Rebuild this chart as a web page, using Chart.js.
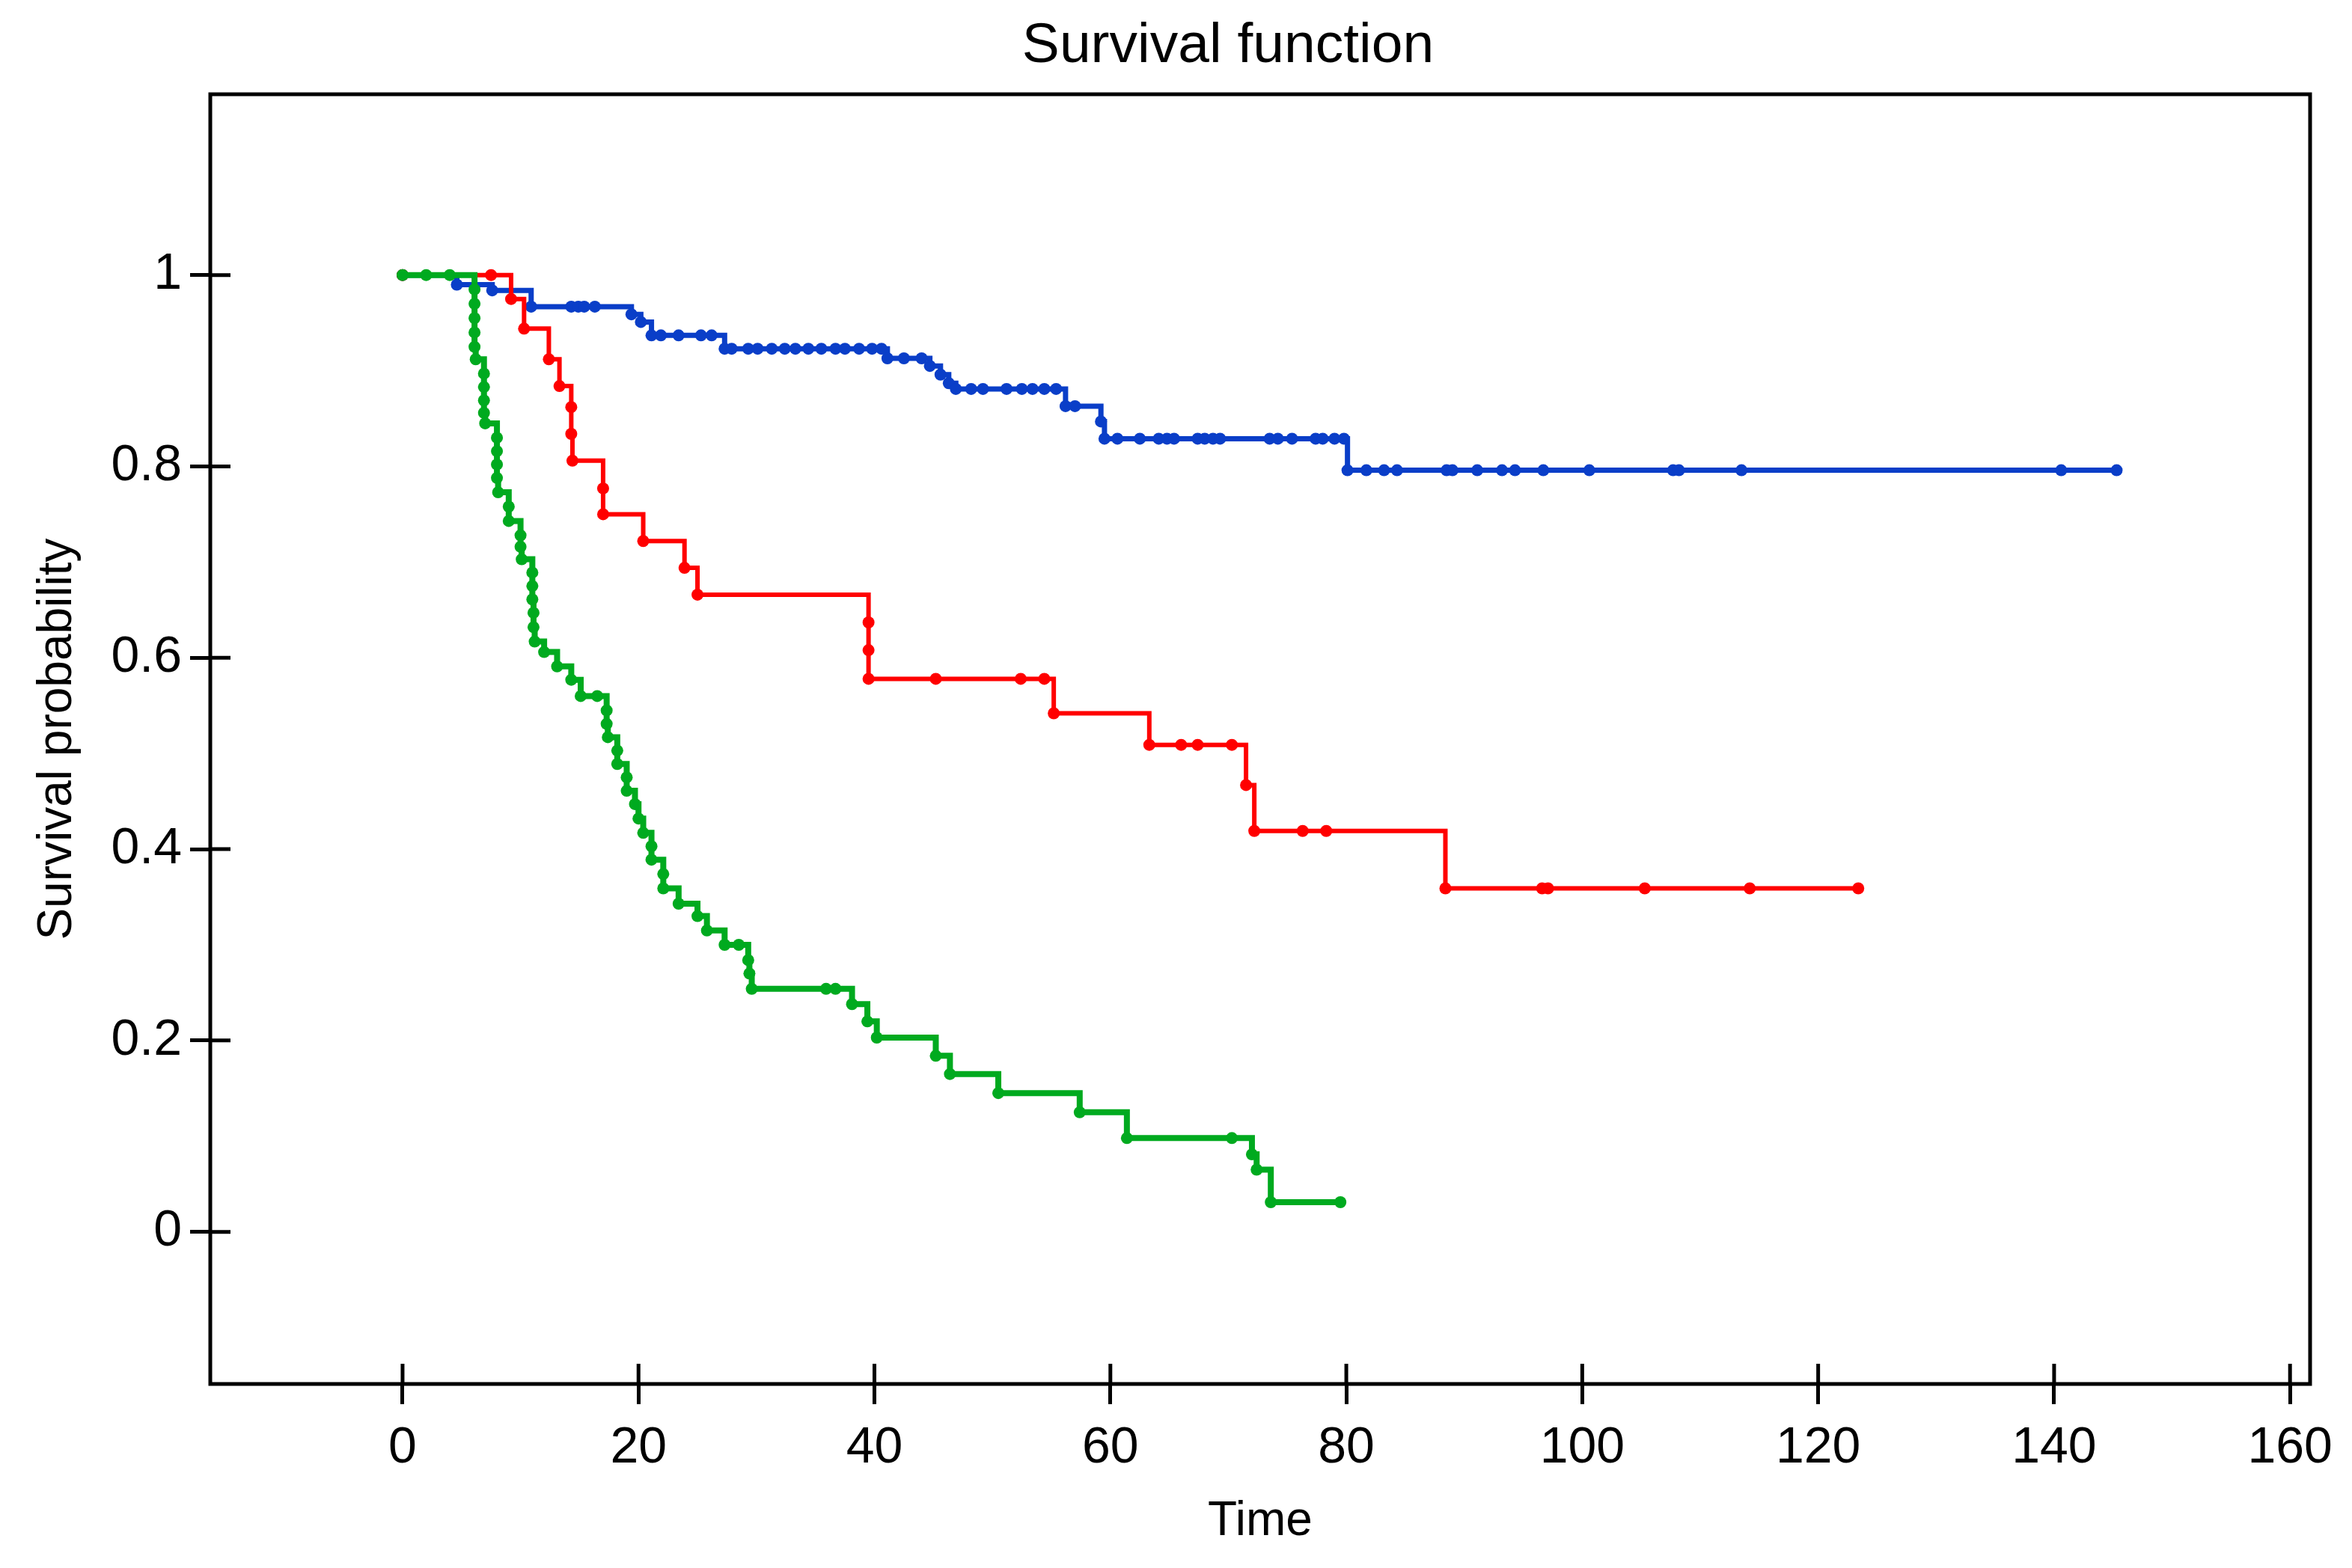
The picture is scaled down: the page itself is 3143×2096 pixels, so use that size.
<!DOCTYPE html>
<html>
<head>
<meta charset="utf-8">
<title>Survival function</title>
<script src="https://cdn.jsdelivr.net/npm/chart.js@4.4.1/dist/chart.umd.min.js"></script>
<style>
  html, body { margin: 0; padding: 0; background: #fff; }
  #wrap { position: relative; width: 3143px; height: 2096px; }
</style>
</head>
<body>
<div id="wrap"><canvas id="survivalChart"></canvas></div>
<script>
// ==================== Data ====================
const chartTitle = 'Survival function';
const xAxisTitle = 'Time';
const yAxisTitle = 'Survival probability';

const xTicks = [0, 20, 40, 60, 80, 100, 120, 140, 160];
const yTicks = [0, 0.2, 0.4, 0.6, 0.8, 1];
const yTickLabels = ['0', '0.2', '0.4', '0.6', '0.8', '1'];

// group 1 (blue)
const blueTime = [
  0, 4.6, 7.6, 10.9, 14.3, 14.9, 15.4, 16.3,
  19.4, 20.2, 21.1, 21.9, 23.4, 25.3, 26.2,
  27.3, 27.9, 29.3, 30.1, 31.3, 32.4, 33.3, 34.4, 35.5, 36.7, 37.5, 38.7, 39.8, 40.6,
  41.1, 42.5, 44.0,
  44.7, 45.6, 46.3, 46.9, 48.2, 49.2, 51.2, 52.5, 53.4, 54.4, 55.4,
  56.2, 57.0,
  59.2, 59.5, 60.6, 62.5, 64.1, 64.8, 65.4, 67.4, 68.0, 68.7, 69.3, 73.5, 74.2, 75.4, 77.4, 78.0, 79.0, 79.8,
  80.1, 81.7, 83.2, 84.3, 88.5, 89.0, 91.1, 93.2, 94.3, 96.7, 100.6, 107.7, 108.2, 113.5, 140.6, 145.3
];
const blueSurv = [
  1, 0.99, 0.984, 0.967, 0.967, 0.967, 0.967, 0.967,
  0.959, 0.951, 0.937, 0.937, 0.937, 0.937, 0.937,
  0.923, 0.923, 0.923, 0.923, 0.923, 0.923, 0.923, 0.923, 0.923, 0.923, 0.923, 0.923, 0.923, 0.923,
  0.913, 0.913, 0.913,
  0.905, 0.896, 0.887, 0.881, 0.881, 0.881, 0.881, 0.881, 0.881, 0.881, 0.881,
  0.863, 0.863,
  0.847, 0.829, 0.829, 0.829, 0.829, 0.829, 0.829, 0.829, 0.829, 0.829, 0.829, 0.829, 0.829, 0.829, 0.829, 0.829, 0.829, 0.829,
  0.796, 0.796, 0.796, 0.796, 0.796, 0.796, 0.796, 0.796, 0.796, 0.796, 0.796, 0.796, 0.796, 0.796, 0.796, 0.796
];

// group 2 (red)
const redTime = [
  0, 7.5, 9.2, 10.3, 12.4, 13.3, 14.3, 14.3, 14.4, 17.0,
  17.0, 20.4, 23.9, 25.0, 39.5, 39.5, 39.5, 45.2, 52.4, 54.4,
  55.2, 63.3, 66.0, 67.4, 70.3, 71.5, 72.2, 76.3, 78.3, 88.4,
  96.6, 97.1, 105.3, 114.2, 123.4
];
const redSurv = [
  1, 1, 0.975, 0.944, 0.912, 0.884, 0.862, 0.834, 0.806, 0.777,
  0.75, 0.722, 0.694, 0.666, 0.637, 0.608, 0.578, 0.578, 0.578, 0.578,
  0.542, 0.509, 0.509, 0.509, 0.509, 0.467, 0.419, 0.419, 0.419, 0.359,
  0.359, 0.359, 0.359, 0.359, 0.359
];

// group 3 (green)
const greenTime = [
  0, 2, 4, 6.1, 6.1, 6.1, 6.1, 6.1, 6.2, 6.9,
  6.9, 6.9, 6.9, 7.0, 8.0, 8.0, 8.0, 8.0, 8.1, 9.0,
  9.0, 10.0, 10.0, 10.1, 11.0, 11.0, 11.0, 11.1, 11.1, 11.2,
  12.0, 13.1, 14.3, 15.1, 16.5, 17.3, 17.3, 17.4, 18.2, 18.2,
  19.0, 19.0, 19.7, 20.0, 20.4, 21.1, 21.1, 22.1, 22.1, 23.4,
  25.0, 25.8, 27.3, 28.5, 29.3, 29.4, 29.6, 35.9, 36.7, 38.1,
  39.4, 40.2, 45.2, 46.4, 50.5, 57.4, 61.4, 70.3, 72.0, 72.4,
  73.6, 79.5
];
const greenSurv = [
  1, 1, 1, 0.985, 0.97, 0.955, 0.94, 0.925, 0.912, 0.897,
  0.883, 0.869, 0.856, 0.845, 0.83, 0.816, 0.802, 0.788, 0.773, 0.758,
  0.743, 0.728, 0.716, 0.703, 0.689, 0.675, 0.661, 0.647, 0.632, 0.617,
  0.606, 0.591, 0.577, 0.56, 0.56, 0.545, 0.531, 0.517, 0.503, 0.489,
  0.475, 0.461, 0.447, 0.432, 0.417, 0.403, 0.389, 0.374, 0.359, 0.343,
  0.33, 0.315, 0.3, 0.3, 0.284, 0.27, 0.254, 0.254, 0.254, 0.238,
  0.22, 0.203, 0.184, 0.165, 0.145, 0.125, 0.098, 0.098, 0.081, 0.065,
  0.031, 0.031
];

// ==================== Chart ====================
(function() {
  'use strict';

  const FONT = '"Liberation Sans", Arial, sans-serif';
  const TICK_LEN = 27;

  function toPoints(times, surv) {
    return times.map((t, i) => ({ x: t, y: surv[i] }));
  }

  function series(label, times, surv, color, width, order) {
    return {
      label: label,
      data: toPoints(times, surv),
      showLine: true,
      stepped: true,
      borderColor: color,
      backgroundColor: color,
      borderWidth: width,
      pointRadius: 8,
      pointBorderWidth: 0,
      pointBackgroundColor: color,
      order: order
    };
  }

  // frame, inner half of the crossing ticks and the title
  const framePlugin = {
    id: 'frame',
    afterDraw(chart) {
      const { ctx, chartArea: a, scales } = chart;
      ctx.save();
      ctx.strokeStyle = '#000';
      ctx.lineWidth = 5;
      ctx.strokeRect(a.left, a.top, a.right - a.left, a.bottom - a.top);

      ctx.beginPath();
      xTicks.forEach(v => {
        const px = scales.x.getPixelForValue(v);
        ctx.moveTo(px, a.bottom);
        ctx.lineTo(px, a.bottom - TICK_LEN);
      });
      yTicks.forEach(v => {
        const py = scales.y.getPixelForValue(v);
        ctx.moveTo(a.left, py);
        ctx.lineTo(a.left + TICK_LEN, py);
      });
      ctx.stroke();

      ctx.fillStyle = '#000';
      ctx.font = '75px ' + FONT;
      ctx.textAlign = 'center';
      ctx.textBaseline = 'middle';
      ctx.fillText(chartTitle, a.left + 1360, 62);
      ctx.restore();
    }
  };

  const ctx = document.getElementById('survivalChart').getContext('2d');

  new Chart(ctx, {
    type: 'scatter',
    data: {
      datasets: [
        series('Group 3', greenTime, greenSurv, '#00aa1f', 8, 0),
        series('Group 2', redTime, redSurv, '#ff0000', 6, 1),
        series('Group 1', blueTime, blueSurv, '#0a3ec8', 7, 2)
      ]
    },
    options: {
      responsive: true,
      maintainAspectRatio: false,
      animation: false,
      layout: {
        padding: { top: 126, right: 56, bottom: 0, left: 0 }
      },
      plugins: {
        legend: { display: false },
        title: { display: false },
        tooltip: { enabled: false }
      },
      scales: {
        x: {
          type: 'linear',
          min: -16.3,
          max: 161.7,
          afterBuildTicks: scale => {
            scale.ticks = xTicks.map(v => ({ value: v }));
          },
          afterFit: scale => {
            scale.height = 246;
            scale.paddingLeft = 0;
            scale.paddingRight = 0;
          },
          ticks: {
            color: '#000',
            font: { family: FONT, size: 68 },
            padding: 18,
            maxRotation: 0,
            callback: value => String(value)
          },
          grid: {
            drawOnChartArea: false,
            drawTicks: true,
            tickLength: TICK_LEN,
            tickWidth: 5,
            tickColor: '#000'
          },
          border: { display: false },
          title: {
            display: true,
            text: xAxisTitle,
            color: '#000',
            font: { family: FONT, size: 64 },
            padding: { top: 0, bottom: 23 }
          }
        },
        y: {
          type: 'linear',
          min: -0.159,
          max: 1.189,
          afterBuildTicks: scale => {
            scale.ticks = yTicks.map(v => ({ value: v }));
          },
          afterFit: scale => {
            scale.width = 281;
            scale.paddingTop = 0;
            scale.paddingBottom = 0;
          },
          ticks: {
            color: '#000',
            font: { family: FONT, size: 68 },
            padding: 11,
            callback: value => yTickLabels[yTicks.indexOf(value)]
          },
          grid: {
            drawOnChartArea: false,
            drawTicks: true,
            tickLength: TICK_LEN,
            tickWidth: 5,
            tickColor: '#000'
          },
          border: { display: false },
          title: {
            display: true,
            text: yAxisTitle,
            color: '#000',
            font: { family: FONT, size: 64 },
            padding: { top: 39, bottom: 0 }
          }
        }
      }
    },
    plugins: [framePlugin]
  });
})();
</script>
</body>
</html>
